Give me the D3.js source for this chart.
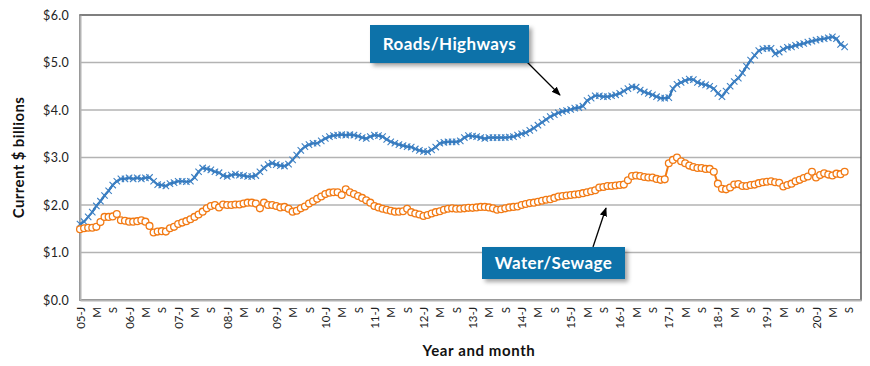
<!DOCTYPE html>
<html><head><meta charset="utf-8">
<script src="https://cdn.jsdelivr.net/npm/d3@7/dist/d3.min.js"></script>
<style>body{margin:0;background:#fff}</style>
</head><body>
<svg id="c" width="870" height="366"></svg>
<script>
// Years shown on the category axis (one category per month, Jan 2005 - Dec 2020)
const years = ["05","06","07","08","09","10","11","12","13","14","15","16","17","18","19","20"];
const monthLetters = ["J","F","M","A","M","J","J","A","S","O","N","D"];
const labelEvery = 4;

// Roads/Highways, monthly, Jan 2005 - Aug 2020 ($ billions)
const roads = [
1.60,1.65,1.75,1.85,1.98,2.08,2.20,2.30,2.42,2.50,2.55,2.55,
2.57,2.55,2.57,2.55,2.57,2.58,2.50,2.43,2.42,2.40,2.45,2.47,
2.50,2.50,2.49,2.50,2.58,2.70,2.78,2.76,2.74,2.70,2.68,2.62,
2.60,2.63,2.65,2.63,2.62,2.60,2.60,2.62,2.70,2.78,2.85,2.88,
2.85,2.83,2.82,2.86,2.95,3.05,3.15,3.23,3.27,3.30,3.30,3.35,
3.40,3.44,3.46,3.47,3.48,3.47,3.48,3.47,3.45,3.42,3.40,3.44,
3.47,3.46,3.44,3.38,3.33,3.30,3.27,3.25,3.23,3.22,3.18,3.15,
3.13,3.12,3.16,3.22,3.30,3.32,3.33,3.33,3.33,3.35,3.42,3.46,
3.45,3.44,3.42,3.40,3.42,3.42,3.42,3.42,3.42,3.43,3.44,3.47,
3.50,3.52,3.57,3.62,3.68,3.74,3.80,3.86,3.90,3.94,3.97,3.99,
4.01,4.04,4.05,4.08,4.20,4.25,4.30,4.30,4.28,4.28,4.30,4.32,
4.35,4.40,4.45,4.49,4.48,4.42,4.38,4.35,4.32,4.28,4.25,4.25,
4.26,4.45,4.54,4.58,4.62,4.65,4.64,4.58,4.55,4.53,4.50,4.45,
4.35,4.28,4.40,4.50,4.60,4.67,4.78,4.92,5.05,5.15,5.25,5.29,
5.30,5.30,5.18,5.22,5.28,5.32,5.33,5.36,5.38,5.40,5.43,5.45,
5.47,5.49,5.50,5.52,5.54,5.50,5.38,5.33
];

// Water/Sewage, monthly, Jan 2005 - Aug 2020 ($ billions)
const water = [
1.49,1.51,1.52,1.52,1.54,1.64,1.75,1.75,1.76,1.81,1.68,1.67,
1.65,1.65,1.66,1.68,1.65,1.56,1.42,1.44,1.45,1.44,1.51,1.54,
1.60,1.63,1.66,1.70,1.75,1.80,1.86,1.93,1.98,2.00,1.95,2.01,
2.00,2.00,2.01,2.01,2.03,2.05,2.05,2.03,1.93,2.05,2.00,2.00,
1.98,1.95,1.96,1.92,1.86,1.88,1.93,1.97,2.03,2.08,2.13,2.18,
2.23,2.26,2.27,2.27,2.21,2.33,2.27,2.23,2.19,2.15,2.10,2.05,
1.98,1.95,1.92,1.90,1.88,1.86,1.86,1.87,1.92,1.85,1.82,1.80,
1.77,1.79,1.82,1.85,1.87,1.90,1.92,1.93,1.92,1.92,1.93,1.94,
1.94,1.95,1.96,1.96,1.95,1.93,1.90,1.91,1.93,1.95,1.96,1.97,
2.00,2.02,2.04,2.05,2.07,2.09,2.11,2.12,2.15,2.18,2.19,2.20,
2.21,2.22,2.23,2.25,2.27,2.29,2.31,2.37,2.38,2.40,2.40,2.41,
2.42,2.43,2.52,2.61,2.62,2.61,2.59,2.58,2.58,2.55,2.53,2.54,
2.88,2.95,3.00,2.92,2.88,2.83,2.80,2.78,2.78,2.76,2.76,2.70,
2.45,2.34,2.33,2.37,2.43,2.44,2.40,2.40,2.42,2.43,2.46,2.48,
2.49,2.50,2.48,2.47,2.39,2.42,2.45,2.50,2.53,2.57,2.60,2.70,
2.58,2.63,2.67,2.64,2.62,2.66,2.65,2.70
];

const yTicks = [0,1,2,3,4,5,6];

const W = 870, H = 366;
const m = {left:80, right:9, top:15, bottom:66};
const svg = d3.select("#c");
const font = "'Lato','Open Sans',sans-serif";

const nCat = years.length * 12;
const x = d3.scaleLinear().domain([0, nCat - 1]).range([m.left, W - m.right]);
const y = d3.scaleLinear().domain([0, 6]).range([H - m.bottom, m.top]);

const defs = svg.append("defs");
const f = defs.append("filter").attr("id","sh").attr("x","-10%").attr("y","-20%").attr("width","130%").attr("height","160%");
f.append("feDropShadow").attr("dx",3).attr("dy",3).attr("stdDeviation",2).attr("flood-color","#000").attr("flood-opacity",0.35);
defs.append("marker").attr("id","ah").attr("viewBox","0 0 10 10").attr("refX",9).attr("refY",5)
  .attr("markerWidth",7).attr("markerHeight",7).attr("orient","auto-start-reverse")
  .append("path").attr("d","M0,1 L10,5 L0,9 Z").attr("fill","#000");

// gridlines
svg.append("g").selectAll("line").data(yTicks.slice(1,-1)).join("line")
  .attr("x1", x(0)).attr("x2", x(nCat-1)).attr("y1", d=>y(d)).attr("y2", d=>y(d))
  .attr("stroke","#b3b3b3").attr("stroke-width",1.5);

// plot border
svg.append("rect").attr("x", x(0)).attr("y", y(6)).attr("width", x(nCat-1)-x(0)).attr("height", y(0)-y(6))
  .attr("fill","none").attr("stroke","#555").attr("stroke-width",1.5);

// axes
const yAxis = d3.axisLeft(y).tickValues(yTicks).tickSize(0).tickPadding(11).tickFormat(d => "$" + d.toFixed(1));
const gy = svg.append("g").attr("transform",`translate(${x(0)},0)`).call(yAxis);
gy.select(".domain").attr("stroke","#b3b3b3").attr("stroke-width",2);
gy.selectAll("text").attr("font-family",font).attr("font-size",12.5).attr("fill","#222").attr("letter-spacing",0.3);

const catLabel = i => {
  const yr = Math.floor(i/12), mo = i % 12;
  return mo === 0 ? years[yr] + "-" + monthLetters[mo] : monthLetters[mo];
};
const xAxis = d3.axisBottom(x).tickValues(d3.range(0, nCat, labelEvery)).tickSize(0).tickFormat(catLabel);
const gx = svg.append("g").attr("transform",`translate(0,${y(0)})`).call(xAxis);
gx.select(".domain").attr("stroke","#b3b3b3").attr("stroke-width",2);
gx.selectAll("text").attr("font-family",font).attr("font-size",11.5).attr("fill","#222")
  .attr("transform","rotate(-90)").attr("text-anchor","end").attr("x",-7).attr("y",0).attr("dy","0.35em");

// Roads line
const line = d3.line().x((d,i)=>x(i)).y(d=>y(d));
svg.append("path").datum(roads).attr("d", line).attr("fill","none").attr("stroke","#2f73b6").attr("stroke-width",2.2);
const rx = svg.append("g").attr("stroke","#3d80c4").attr("stroke-width",1.1);
rx.selectAll("path").data(roads).join("path")
  .attr("d",(d,i)=>{const cx=x(i), cy=y(d), s=3.2; return `M${cx-s},${cy-s}L${cx+s},${cy+s}M${cx-s},${cy+s}L${cx+s},${cy-s}`;});

// Water line
svg.append("path").datum(water).attr("d", line).attr("fill","none").attr("stroke","#f27a14").attr("stroke-width",2);
svg.append("g").selectAll("circle").data(water).join("circle")
  .attr("cx",(d,i)=>x(i)).attr("cy",d=>y(d)).attr("r",3.4)
  .attr("fill","#fff").attr("stroke","#f27a14").attr("stroke-width",1.3);

// axis titles
svg.append("text").attr("transform",`translate(24,${(y(0)+y(6))/2}) rotate(-90)`)
  .attr("text-anchor","middle").attr("font-family",font).attr("font-weight","bold").attr("font-size",15).attr("letter-spacing",0.4).attr("fill","#111")
  .text("Current $ billions");
svg.append("text").attr("x",479).attr("y",356).attr("text-anchor","middle")
  .attr("font-family",font).attr("font-weight","bold").attr("font-size",15).attr("letter-spacing",0.6).attr("fill","#111")
  .text("Year and month");

// annotations
function callout(x0,y0,w,h,label,ax1,ay1,ax2,ay2){
  svg.append("line").attr("x1",ax1).attr("y1",ay1).attr("x2",ax2).attr("y2",ay2)
    .attr("stroke","#000").attr("stroke-width",1.3).attr("marker-end","url(#ah)");
  svg.append("rect").attr("x",x0).attr("y",y0).attr("width",w).attr("height",h)
    .attr("fill","#1072a9").attr("filter","url(#sh)");
  svg.append("text").attr("x",x0+w/2).attr("y",y0+h/2).attr("dy","0.35em").attr("text-anchor","middle")
    .attr("font-family",font).attr("font-weight","bold").attr("font-size",17).attr("letter-spacing",0.4).attr("fill","#fff").text(label);
}
callout(370,25,159,38,"Roads/Highways",527,62,560,95);
callout(482,247,143,32,"Water/Sewage",593,247,606,208);
</script>
</body></html>
